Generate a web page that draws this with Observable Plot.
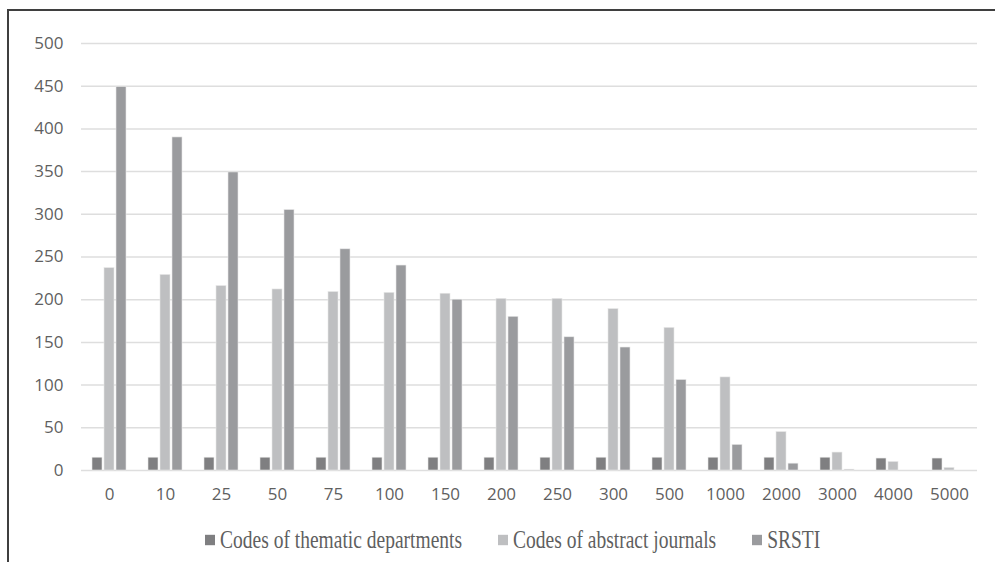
<!DOCTYPE html>
<html>
<head>
<meta charset="utf-8">
<script src="https://cdn.jsdelivr.net/npm/d3@7"></script>
<script src="https://cdn.jsdelivr.net/npm/@observablehq/plot@0.6"></script>
<style>
  html, body { margin: 0; padding: 0; background: #fff; }
  #wrap { position: relative; width: 995px; height: 562px; overflow: hidden; }
  #frame { position: absolute; left: 7px; top: 9px; width: 1000px; height: 600px;
           border-top: 2px solid #3f3f3f; border-left: 2px solid #3f3f3f; }
  #chart { position: absolute; left: 0; top: 0; }
  #legend { position: absolute; top: 529px; left: 205px; font-family: "Liberation Serif", serif;
            font-size: 19.5px; line-height: 22px; color: #5f5f5f; white-space: nowrap;
            transform: scaleY(1.3); transform-origin: left center; }
  #legend span.item { display: inline-block; margin-right: 36px; }
  #legend span.sw { display: inline-block; width: 10px; height: 8px; margin-right: 5px; vertical-align: 2px; }
</style>
</head>
<body>
<div id="wrap">
  <div id="frame"></div>
  <div id="chart"></div>
  <div id="legend"></div>
</div>
<script>
const categories = ["0","10","25","50","75","100","150","200","250","300","500","1000","2000","3000","4000","5000"];
const series = ["Codes of thematic departments", "Codes of abstract journals", "SRSTI"];
const thematic = [15,15,15,15,15,15,15,15,15,15,15,15,15,15,14,14];
const abstractJ = [237,229,216,212,209,208,207,201,201,189,167,109,45,21,10,3];
const srsti = [449,390,349,305,259,240,200,180,156,144,106,30,8,1,0,0];
const yTicks = [0,50,100,150,200,250,300,350,400,450,500];
const colors = ["#7f7f81", "#bebfc1", "#9a9b9e"];

const values = [thematic, abstractJ, srsti];
const data = [];
categories.forEach((c, i) => {
  series.forEach((s, j) => data.push({cat: c, series: s, value: values[j][i]}));
});

const chart = Plot.plot({
  width: 995,
  height: 520,
  marginLeft: 81,
  marginRight: 18,
  marginTop: 43,
  marginBottom: 50,
  style: {fontFamily: "'Open Sans', sans-serif", fontSize: "17px", color: "#5f5f5f", background: "transparent"},
  fx: {domain: categories, padding: 0, label: null, tickSize: 0, tickPadding: 17, axis: "bottom"},
  x: {domain: series, axis: null, paddingInner: 0.2, paddingOuter: 0.84},
  y: {domain: [0, 500], ticks: yTicks, label: null, tickSize: 0, tickPadding: 18},
  color: {domain: series, range: colors},
  marks: [
    Plot.ruleY(yTicks, {stroke: "#dedede", strokeWidth: 1.5}),
    Plot.barY(data, {fx: "cat", x: "series", y: "value", fill: "series", stroke: "#e8e8e8", strokeWidth: 0.6})
  ]
});
document.getElementById("chart").appendChild(chart);

const legend = document.getElementById("legend");
series.forEach((s, j) => {
  const item = document.createElement("span");
  item.className = "item";
  const sw = document.createElement("span");
  sw.className = "sw";
  sw.style.background = colors[j];
  item.appendChild(sw);
  item.appendChild(document.createTextNode(s));
  legend.appendChild(item);
});
</script>
</body>
</html>
